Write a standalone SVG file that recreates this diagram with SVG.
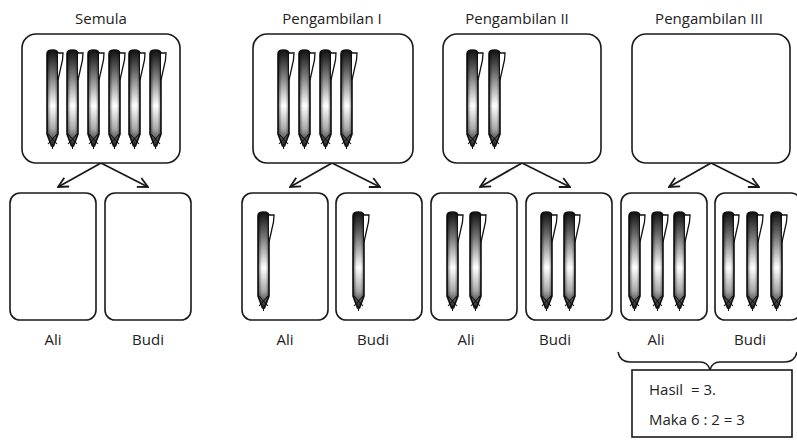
<svg xmlns="http://www.w3.org/2000/svg" xmlns:xlink="http://www.w3.org/1999/xlink" width="797" height="440" viewBox="0 0 797 440">
  <style>
    .box { fill: #fff; stroke: #1a1a1a; stroke-width: 1.6; }
    .lbl { font-family: "Open Sans", "Liberation Sans", sans-serif; font-size: 15px; fill: #222; text-anchor: middle; }
    .txt { font-family: "Open Sans", "Liberation Sans", sans-serif; font-size: 15px; fill: #222; }
    .con { fill: none; stroke: #1a1a1a; stroke-width: 1.8; marker-end: url(#head); }
    .brace { fill: none; stroke: #1a1a1a; stroke-width: 1.5; }
  </style>
  <defs>
    <linearGradient id="penShade" x1="0" y1="0" x2="0" y2="1">
      <stop offset="0" stop-color="#111"/>
      <stop offset="0.22" stop-color="#666"/>
      <stop offset="0.58" stop-color="#fff"/>
      <stop offset="0.82" stop-color="#aaa"/>
      <stop offset="1" stop-color="#1a1a1a"/>
    </linearGradient>
    <linearGradient id="penSide" x1="0" y1="0" x2="1" y2="0">
      <stop offset="0" stop-color="#000" stop-opacity="0.55"/>
      <stop offset="0.35" stop-color="#000" stop-opacity="0"/>
      <stop offset="0.7" stop-color="#000" stop-opacity="0"/>
      <stop offset="1" stop-color="#000" stop-opacity="0.45"/>
    </linearGradient>
    <!-- one pen: body with rounded cap, pointed tip, and a pocket clip -->
    <g id="pen">
      <path d="M0,4 Q0,0 5.5,0 Q11,0 11,4 L11,84 L6.5,96 L4.5,96 L0,84 Z" fill="url(#penShade)" stroke="#111" stroke-width="1.6"/>
      <path d="M0,4 Q0,0 5.5,0 Q11,0 11,4 L11,84 L6.5,96 L4.5,96 L0,84 Z" fill="url(#penSide)"/>
      <path d="M11,3 L16,3 L15.5,10 L11,30" fill="#fff" stroke="#111" stroke-width="1.3"/>
      <path d="M1,84 L10,94 M10,84 L1,94 M5.5,96 L5.5,99" stroke="#111" stroke-width="1.1"/>
    </g>
    <marker id="head" viewBox="0 0 12 12" refX="11" refY="6" markerWidth="12" markerHeight="12" markerUnits="userSpaceOnUse" orient="auto">
      <path d="M1,1 L11,6 L1,11" fill="none" stroke="#1a1a1a" stroke-width="1.8"/>
    </marker>
  </defs>

  <!-- column titles -->
  <text class="lbl" x="101" y="24">Semula</text>
  <text class="lbl" x="332" y="24">Pengambilan I</text>
  <text class="lbl" x="517" y="24">Pengambilan II</text>
  <text class="lbl" x="709" y="24">Pengambilan III</text>

  <!-- connectors -->
  <g id="connectors">
    <path class="con" d="M101,163 L58,187"/>
    <path class="con" d="M101,163 L148,187"/>
    <path class="con" d="M332,163 L290,187"/>
    <path class="con" d="M332,163 L380,187"/>
    <path class="con" d="M522,163 L480,187"/>
    <path class="con" d="M522,163 L570,187"/>
    <path class="con" d="M711,163 L669,187"/>
    <path class="con" d="M711,163 L759,187"/>
  </g>

  <!-- Semula -->
  <g id="semula-top">
    <rect class="box" x="22" y="34" width="158" height="129" rx="14"/>
    <use href="#pen" x="47" y="50"/>
    <use href="#pen" x="67" y="50"/>
    <use href="#pen" x="88" y="50"/>
    <use href="#pen" x="109" y="50"/>
    <use href="#pen" x="129" y="50"/>
    <use href="#pen" x="150" y="50"/>
  </g>
  <g id="semula-ali">
    <rect class="box" x="10" y="193" width="86" height="127" rx="10"/>
    <text class="lbl" x="53" y="345">Ali</text>
  </g>
  <g id="semula-budi">
    <rect class="box" x="105" y="193" width="86" height="127" rx="10"/>
    <text class="lbl" x="148" y="345">Budi</text>
  </g>

  <!-- Pengambilan I -->
  <g id="p1-top">
    <rect class="box" x="253" y="34" width="160" height="129" rx="14"/>
    <use href="#pen" x="278" y="50"/>
    <use href="#pen" x="299" y="50"/>
    <use href="#pen" x="320" y="50"/>
    <use href="#pen" x="341" y="50"/>
  </g>
  <g id="p1-ali">
    <rect class="box" x="242" y="193" width="86" height="127" rx="10"/>
    <use href="#pen" x="258" y="212"/>
    <text class="lbl" x="285" y="345">Ali</text>
  </g>
  <g id="p1-budi">
    <rect class="box" x="336" y="193" width="86" height="127" rx="10"/>
    <use href="#pen" x="353" y="212"/>
    <text class="lbl" x="373" y="345">Budi</text>
  </g>

  <!-- Pengambilan II -->
  <g id="p2-top">
    <rect class="box" x="443" y="34" width="158" height="129" rx="14"/>
    <use href="#pen" x="467" y="50"/>
    <use href="#pen" x="489" y="50"/>
  </g>
  <g id="p2-ali">
    <rect class="box" x="431" y="193" width="86" height="127" rx="10"/>
    <use href="#pen" x="447" y="212"/>
    <use href="#pen" x="470" y="212"/>
    <text class="lbl" x="466" y="345">Ali</text>
  </g>
  <g id="p2-budi">
    <rect class="box" x="526" y="193" width="86" height="127" rx="10"/>
    <use href="#pen" x="541" y="212"/>
    <use href="#pen" x="564" y="212"/>
    <text class="lbl" x="555" y="345">Budi</text>
  </g>

  <!-- Pengambilan III -->
  <g id="p3-top">
    <rect class="box" x="632" y="34" width="158" height="129" rx="14"/>
  </g>
  <g id="p3-ali">
    <rect class="box" x="621" y="193" width="86" height="127" rx="10"/>
    <use href="#pen" x="629" y="212"/>
    <use href="#pen" x="652" y="212"/>
    <use href="#pen" x="674" y="212"/>
    <text class="lbl" x="656" y="345">Ali</text>
  </g>
  <g id="p3-budi">
    <rect class="box" x="715" y="193" width="86" height="127" rx="10"/>
    <use href="#pen" x="723" y="212"/>
    <use href="#pen" x="747" y="212"/>
    <use href="#pen" x="771" y="212"/>
    <text class="lbl" x="750" y="345">Budi</text>
  </g>

  <!-- brace gathering the last pair -->
  <path class="brace" d="M618,352 Q620,362 630,362 L700,362 Q708,362 710,370 Q712,362 720,362 L785,362 Q795,362 797,352"/>

  <!-- result -->
  <g id="result">
    <rect x="632" y="370" width="160" height="67" fill="#fff" stroke="#1a1a1a" stroke-width="1.6"/>
    <text class="txt" x="649" y="395" xml:space="preserve">Hasil  = 3.</text>
    <text class="txt" x="649" y="425">Maka 6 : 2 = 3</text>
  </g>
</svg>
